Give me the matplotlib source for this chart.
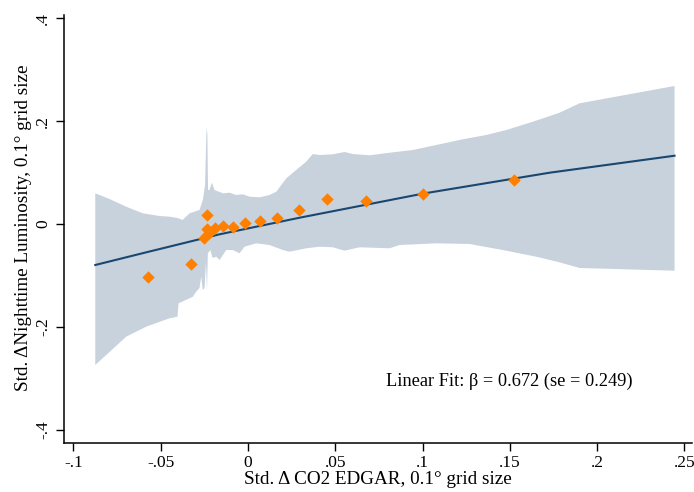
import matplotlib

matplotlib.use("Agg")
import matplotlib.pyplot as plt

# binned scatter points
bin_x = [-0.0574, -0.0329, -0.0236, -0.0236, -0.0221, -0.0253, -0.0188, -0.0144,
         -0.0087, -0.0018, 0.0066, 0.0165, 0.0291, 0.0454, 0.0677, 0.1005, 0.1526]
bin_y = [-0.1023, -0.0771, 0.0169, -0.0091, -0.0181, -0.0278, -0.0072, -0.0033,
         -0.0058, 0.0014, 0.0052, 0.0111, 0.0278, 0.0480, 0.0452, 0.0588, 0.0854]

# fitted curve
fit_x = [-0.0875, -0.0576, -0.0163, 0.0295, 0.1005, 0.1727, 0.2443]
fit_y = [-0.0796, -0.0544, -0.0200, 0.0122, 0.0592, 0.0996, 0.1326]

# confidence band, upper edge
upper_x = [-0.0875, -0.0793, -0.0698, -0.0603, -0.0507, -0.0450, -0.0404, -0.0375,
           -0.0335, -0.0278, -0.0259, -0.0246, -0.0239, -0.0236, -0.0233, -0.0229,
           -0.0221, -0.0207, -0.0192, -0.0144, -0.0106, -0.0068, -0.0030, 0.0009,
           0.0066, 0.0123, 0.0162, 0.0219, 0.0276, 0.0333, 0.0371, 0.0410, 0.0486,
           0.0553, 0.0600, 0.0696, 0.0810, 0.0944, 0.1097, 0.1230, 0.1364, 0.1479,
           0.1631, 0.1784, 0.1899, 0.2443]
upper_y = [0.0596, 0.0485, 0.0336, 0.0208, 0.0155, 0.0142, 0.0117, 0.0078,
           0.0208, 0.0272, 0.0466, 0.0757, 0.1728, 0.1864, 0.1728, 0.0660,
           0.0660, 0.0802, 0.0660, 0.0596, 0.0608, 0.0563, 0.0577, 0.0530,
           0.0518, 0.0563, 0.0627, 0.0887, 0.1049, 0.1210, 0.1359, 0.1340, 0.1353,
           0.1398, 0.1359, 0.1334, 0.1384, 0.1437, 0.1548, 0.1645, 0.1728, 0.1825,
           0.1986, 0.2161, 0.2344, 0.2680]

# confidence band, lower edge
lower_x = [-0.0875, -0.0793, -0.0698, -0.0583, -0.0450, -0.0404, -0.0398, -0.0316,
           -0.0297, -0.0278, -0.0268, -0.0259, -0.0249, -0.0241, -0.0235, -0.0230,
           -0.0216, -0.0203, -0.0182, -0.0163, -0.0125, -0.0087, -0.0049, -0.0020,
           0.0047, 0.0123, 0.0199, 0.0238, 0.0333, 0.0410, 0.0486, 0.0553, 0.0639,
           0.0810, 0.0868, 0.1078, 0.1269, 0.1459, 0.1651, 0.1784, 0.1899, 0.2443]
lower_y = [-0.2738, -0.2485, -0.2188, -0.1994, -0.1831, -0.1800, -0.1540, -0.1412,
           -0.1315, -0.1243, -0.1023, -0.1282, -0.1243, -0.0738, -0.1282, -0.0569,
           -0.0505, -0.0660, -0.0635, -0.0699, -0.0505, -0.0505, -0.0569, -0.0441,
           -0.0375, -0.0408, -0.0505, -0.0538, -0.0472, -0.0441, -0.0452, -0.0518, -0.0452,
           -0.0472, -0.0408, -0.0375, -0.0388, -0.0505, -0.0635, -0.0744, -0.0854, -0.0907]

x_ticks = [-0.1, -0.05, 0, 0.05, 0.1, 0.15, 0.2, 0.25]
x_tick_labels = ["-.1", "-.05", "0", ".05", ".1", ".15", ".2", ".25"]
y_ticks = [-0.4, -0.2, 0, 0.2, 0.4]
y_tick_labels = ["-.4", "-.2", "0", ".2", ".4"]

plt.rcParams["font.family"] = ["Liberation Serif", "DejaVu Serif"]

fig = plt.figure(figsize=(6.94, 4.92), dpi=100)
ax = fig.add_axes([63.5 / 694, 49.3 / 492, 628.5 / 694, 430.7 / 492])

band_x = upper_x + lower_x[::-1]
band_y = upper_y + lower_y[::-1]
ax.fill(band_x, band_y, color="#c8d2dc", linewidth=0, zorder=1)
ax.plot(fit_x, fit_y, color="#1a476f", linewidth=1.5, zorder=2)
ax.scatter(bin_x, bin_y, marker="D", s=40, color="#ff7f00", linewidths=0, zorder=3)

ax.text(0.1498, -0.305, "Linear Fit: β = 0.672 (se = 0.249)",
        ha="center", va="center", fontsize=13.2)

ax.set_xlim(-0.1057, 0.2543)
ax.set_ylim(-0.4247, 0.4117)
ax.set_xticks(x_ticks)
ax.set_xticklabels(x_tick_labels, fontsize=12.5)
ax.set_yticks(y_ticks)
ax.set_yticklabels(y_tick_labels, fontsize=12.5, rotation=90, va="center")
ax.tick_params(direction="out", length=6, width=1, pad=3)

ax.spines["top"].set_visible(False)
ax.spines["right"].set_visible(False)
ax.spines["left"].set_bounds(-0.4247, 0.405)
ax.spines["left"].set_linewidth(1.1)
ax.spines["bottom"].set_linewidth(1.1)

ax.set_xlabel("Std. Δ CO2 EDGAR, 0.1° grid size", fontsize=13.8, labelpad=0)
ax.set_ylabel("Std. ΔNighttime Luminosity, 0.1° grid size", fontsize=13.8, labelpad=2)

fig.savefig("out.png", dpi=100)
